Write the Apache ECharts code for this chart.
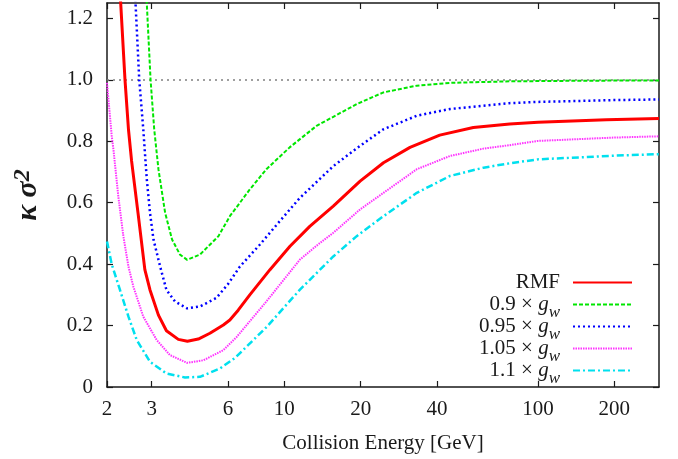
<!DOCTYPE html>
<html><head><meta charset="utf-8">
<script src="https://cdn.jsdelivr.net/npm/echarts@6/dist/echarts.min.js"></script>
<style>html,body{margin:0;padding:0;background:#fff}#c{width:678px;height:459px}</style>
</head><body><div id="c"></div>
<script>
// Tick labels
const xTicks = [2, 3, 6, 10, 20, 40, 100, 200];
const yTicks = [0, 0.2, 0.4, 0.6, 0.8, 1.0, 1.2];
const xRange = [2, 300];
const yRange = [0, 1.25];
const refLine = 1.0;

// Series names and legend labels
const seriesNames = ['RMF', '0.9 gw', '0.95 gw', '1.05 gw', '1.1 gw'];
const legendLabels = ['{t|RMF}{s|\u200b}', '{t|0.9 × }{g|g}{s|w}', '{t|0.95 × }{g|g}{s|w}', '{t|1.05 × }{g|g}{s|w}', '{t|1.1 × }{g|g}{s|w}'];

// Data: collision energy [GeV] and kappa sigma^2
const rmfE = [2.24, 2.355, 2.43, 2.5, 2.65, 2.82, 2.955, 3.19, 3.43, 3.82, 4.15, 4.58, 5.09, 5.75, 6.1, 6.58, 7.31, 8.78, 10.53, 12.6, 15.6, 19.9, 24.6, 31.3, 41, 55.6, 77.4, 100, 186, 300];
const rmfV = [1.32, 1.0, 0.839, 0.736, 0.567, 0.382, 0.316, 0.234, 0.183, 0.155, 0.149, 0.156, 0.175, 0.202, 0.218, 0.25, 0.300, 0.382, 0.458, 0.523, 0.589, 0.670, 0.730, 0.78, 0.820, 0.845, 0.856, 0.862, 0.870, 0.874];

const g090E = [2.85, 2.97, 3.07, 3.19, 3.39, 3.61, 3.88, 4.14, 4.65, 5.5, 6.1, 7.31, 8.5, 10.5, 13.4, 19.3, 24.6, 33.3, 45, 77, 150, 300];
const g090V = [1.30, 1.0, 0.839, 0.709, 0.567, 0.480, 0.431, 0.414, 0.431, 0.491, 0.556, 0.643, 0.709, 0.78, 0.850, 0.921, 0.959, 0.981, 0.990, 0.995, 0.997, 0.998];

const g095E = [2.57, 2.68, 2.78, 2.87, 2.955, 3.05, 3.24, 3.43, 3.71, 4.14, 4.65, 5.4, 6.0, 6.68, 8.0, 9.6, 11.5, 15.6, 19.9, 24.6, 33.3, 45, 77, 100, 200, 300];
const g095V = [1.31, 1.0, 0.839, 0.676, 0.567, 0.480, 0.392, 0.316, 0.278, 0.256, 0.262, 0.29, 0.335, 0.392, 0.463, 0.540, 0.615, 0.719, 0.785, 0.839, 0.883, 0.905, 0.924, 0.928, 0.934, 0.936];

const g105E = [2.0, 2.087, 2.12, 2.216, 2.32, 2.43, 2.54, 2.78, 3.14, 3.54, 4.14, 4.8, 5.75, 6.49, 8.53, 11.5, 13.4, 15.6, 19.9, 24.6, 33.3, 45, 61, 77, 100, 200, 300];
const g105V = [0.99, 0.818, 0.774, 0.621, 0.491, 0.392, 0.327, 0.229, 0.153, 0.104, 0.0785, 0.087, 0.120, 0.163, 0.28, 0.414, 0.46, 0.502, 0.578, 0.632, 0.709, 0.752, 0.776, 0.787, 0.801, 0.812, 0.816];

const g110E = [2.0, 2.087, 2.25, 2.43, 2.62, 2.955, 3.43, 4.06, 4.65, 5.57, 6.4, 8.53, 11.5, 15.6, 19.3, 24.6, 33.3, 45, 61, 77, 100, 200, 300];
const g110V = [0.474, 0.40, 0.316, 0.229, 0.153, 0.082, 0.044, 0.031, 0.033, 0.060, 0.095, 0.196, 0.316, 0.425, 0.491, 0.556, 0.632, 0.687, 0.714, 0.728, 0.741, 0.753, 0.758];

const L = Math.log10;
const pairs = (E, V) => E.map((e, i) => [L(e), V[i]]);
const FONT = '"Liberation Serif", "DejaVu Serif", serif';
const INK = '#1a1a1a';

const styles = [
  { color: '#ff0000', width: 3, type: 'solid' },
  { color: '#00e600', width: 2, type: [4, 2] },
  { color: '#0000ff', width: 2.5, type: [2, 3] },
  { color: '#ff33ff', width: 2, type: [1.5, 1] },
  { color: '#00e0ee', width: 2.5, type: [7, 3, 2, 3] }
];
const dataSets = [pairs(rmfE, rmfV), pairs(g090E, g090V), pairs(g095E, g095V), pairs(g105E, g105V), pairs(g110E, g110V)];

const series = seriesNames.map((n, i) => ({
  name: n, type: 'line', data: dataSets[i], symbol: 'none', showSymbol: false,
  clip: true, z: 10 - i,
  lineStyle: { color: styles[i].color, width: styles[i].width, type: styles[i].type, cap: 'butt' },
  itemStyle: { color: styles[i].color }
}));
series[0].markLine = {
  silent: true, symbol: 'none', animation: false,
  label: { show: false },
  lineStyle: { color: '#808080', width: 1.5, type: [2, 4] },
  data: [{ yAxis: refLine }]
};

const xTickLog = xTicks.map(L);
const axisLineStyle = { lineStyle: { color: INK, width: 1.5 } };
const tickStyle = { inside: true, length: 6, lineStyle: { color: INK, width: 1.2 } };

const chart = echarts.init(document.getElementById('c'), null, { renderer: 'canvas' });
chart.setOption({
  animation: false,
  backgroundColor: '#fff',
  grid: { left: 107, right: 19, top: 3, bottom: 72, containLabel: false },
  xAxis: [{
    type: 'value', position: 'bottom', min: L(xRange[0]), max: L(xRange[1]),
    axisLine: { show: true, onZero: false, ...axisLineStyle },
    axisTick: { ...tickStyle, customValues: xTickLog },
    axisLabel: { customValues: xTickLog, formatter: v => String(Math.round(Math.pow(10, v))),
      fontFamily: FONT, fontSize: 21, color: INK, margin: 12 },
    splitLine: { show: false },
    name: 'Collision Energy [GeV]', nameLocation: 'middle', nameGap: 46,
    nameTextStyle: { fontFamily: FONT, fontSize: 21, color: INK }
  }, {
    type: 'value', position: 'top', min: L(xRange[0]), max: L(xRange[1]),
    axisLine: { show: true, onZero: false, ...axisLineStyle },
    axisTick: { ...tickStyle, customValues: xTickLog },
    axisLabel: { show: false }, splitLine: { show: false }
  }],
  yAxis: [{
    type: 'value', position: 'left', min: yRange[0], max: yRange[1],
    axisLine: { show: true, onZero: false, ...axisLineStyle },
    axisTick: { ...tickStyle, customValues: yTicks },
    axisLabel: { customValues: yTicks, formatter: v => v === 0 ? '0' : v.toFixed(1),
      fontFamily: FONT, fontSize: 21, color: INK, margin: 14 },
    splitLine: { show: false },
    name: '{k|κ σ}{s|2}', nameLocation: 'middle', nameRotate: 90, nameGap: 62,
    nameTextStyle: {
      color: INK,
      rich: {
        k: { fontFamily: FONT, fontSize: 30, fontStyle: 'italic', fontWeight: 'bold', lineHeight: 34, color: INK },
        s: { fontFamily: FONT, fontSize: 24, fontStyle: 'italic', fontWeight: 'bold', lineHeight: 10, verticalAlign: 'top', color: INK }
      }
    }
  }, {
    type: 'value', position: 'right', min: yRange[0], max: yRange[1],
    axisLine: { show: true, onZero: false, ...axisLineStyle },
    axisTick: { ...tickStyle, customValues: yTicks },
    axisLabel: { show: false }, splitLine: { show: false }
  }],
  legend: {
    orient: 'vertical', align: 'right', right: 45, top: 266, padding: 0,
    itemWidth: 59, itemHeight: 14, itemGap: -11,
    itemStyle: { opacity: 0, borderWidth: 0 },
    data: seriesNames,
    formatter: name => legendLabels[seriesNames.indexOf(name)],
    textStyle: {
      color: INK, padding: [0, 8, 0, 0],
      rich: {
        t: { fontFamily: FONT, fontSize: 21, lineHeight: 22, color: INK, verticalAlign: 'middle' },
        g: { fontFamily: FONT, fontSize: 21, fontStyle: 'italic', lineHeight: 22, color: INK, verticalAlign: 'middle' },
        s: { fontFamily: FONT, fontSize: 17, fontStyle: 'italic', lineHeight: 4, padding: [16, 0, 0, 0], verticalAlign: 'middle', color: INK }
      }
    }
  },
  series: series
});
</script>
</body></html>
